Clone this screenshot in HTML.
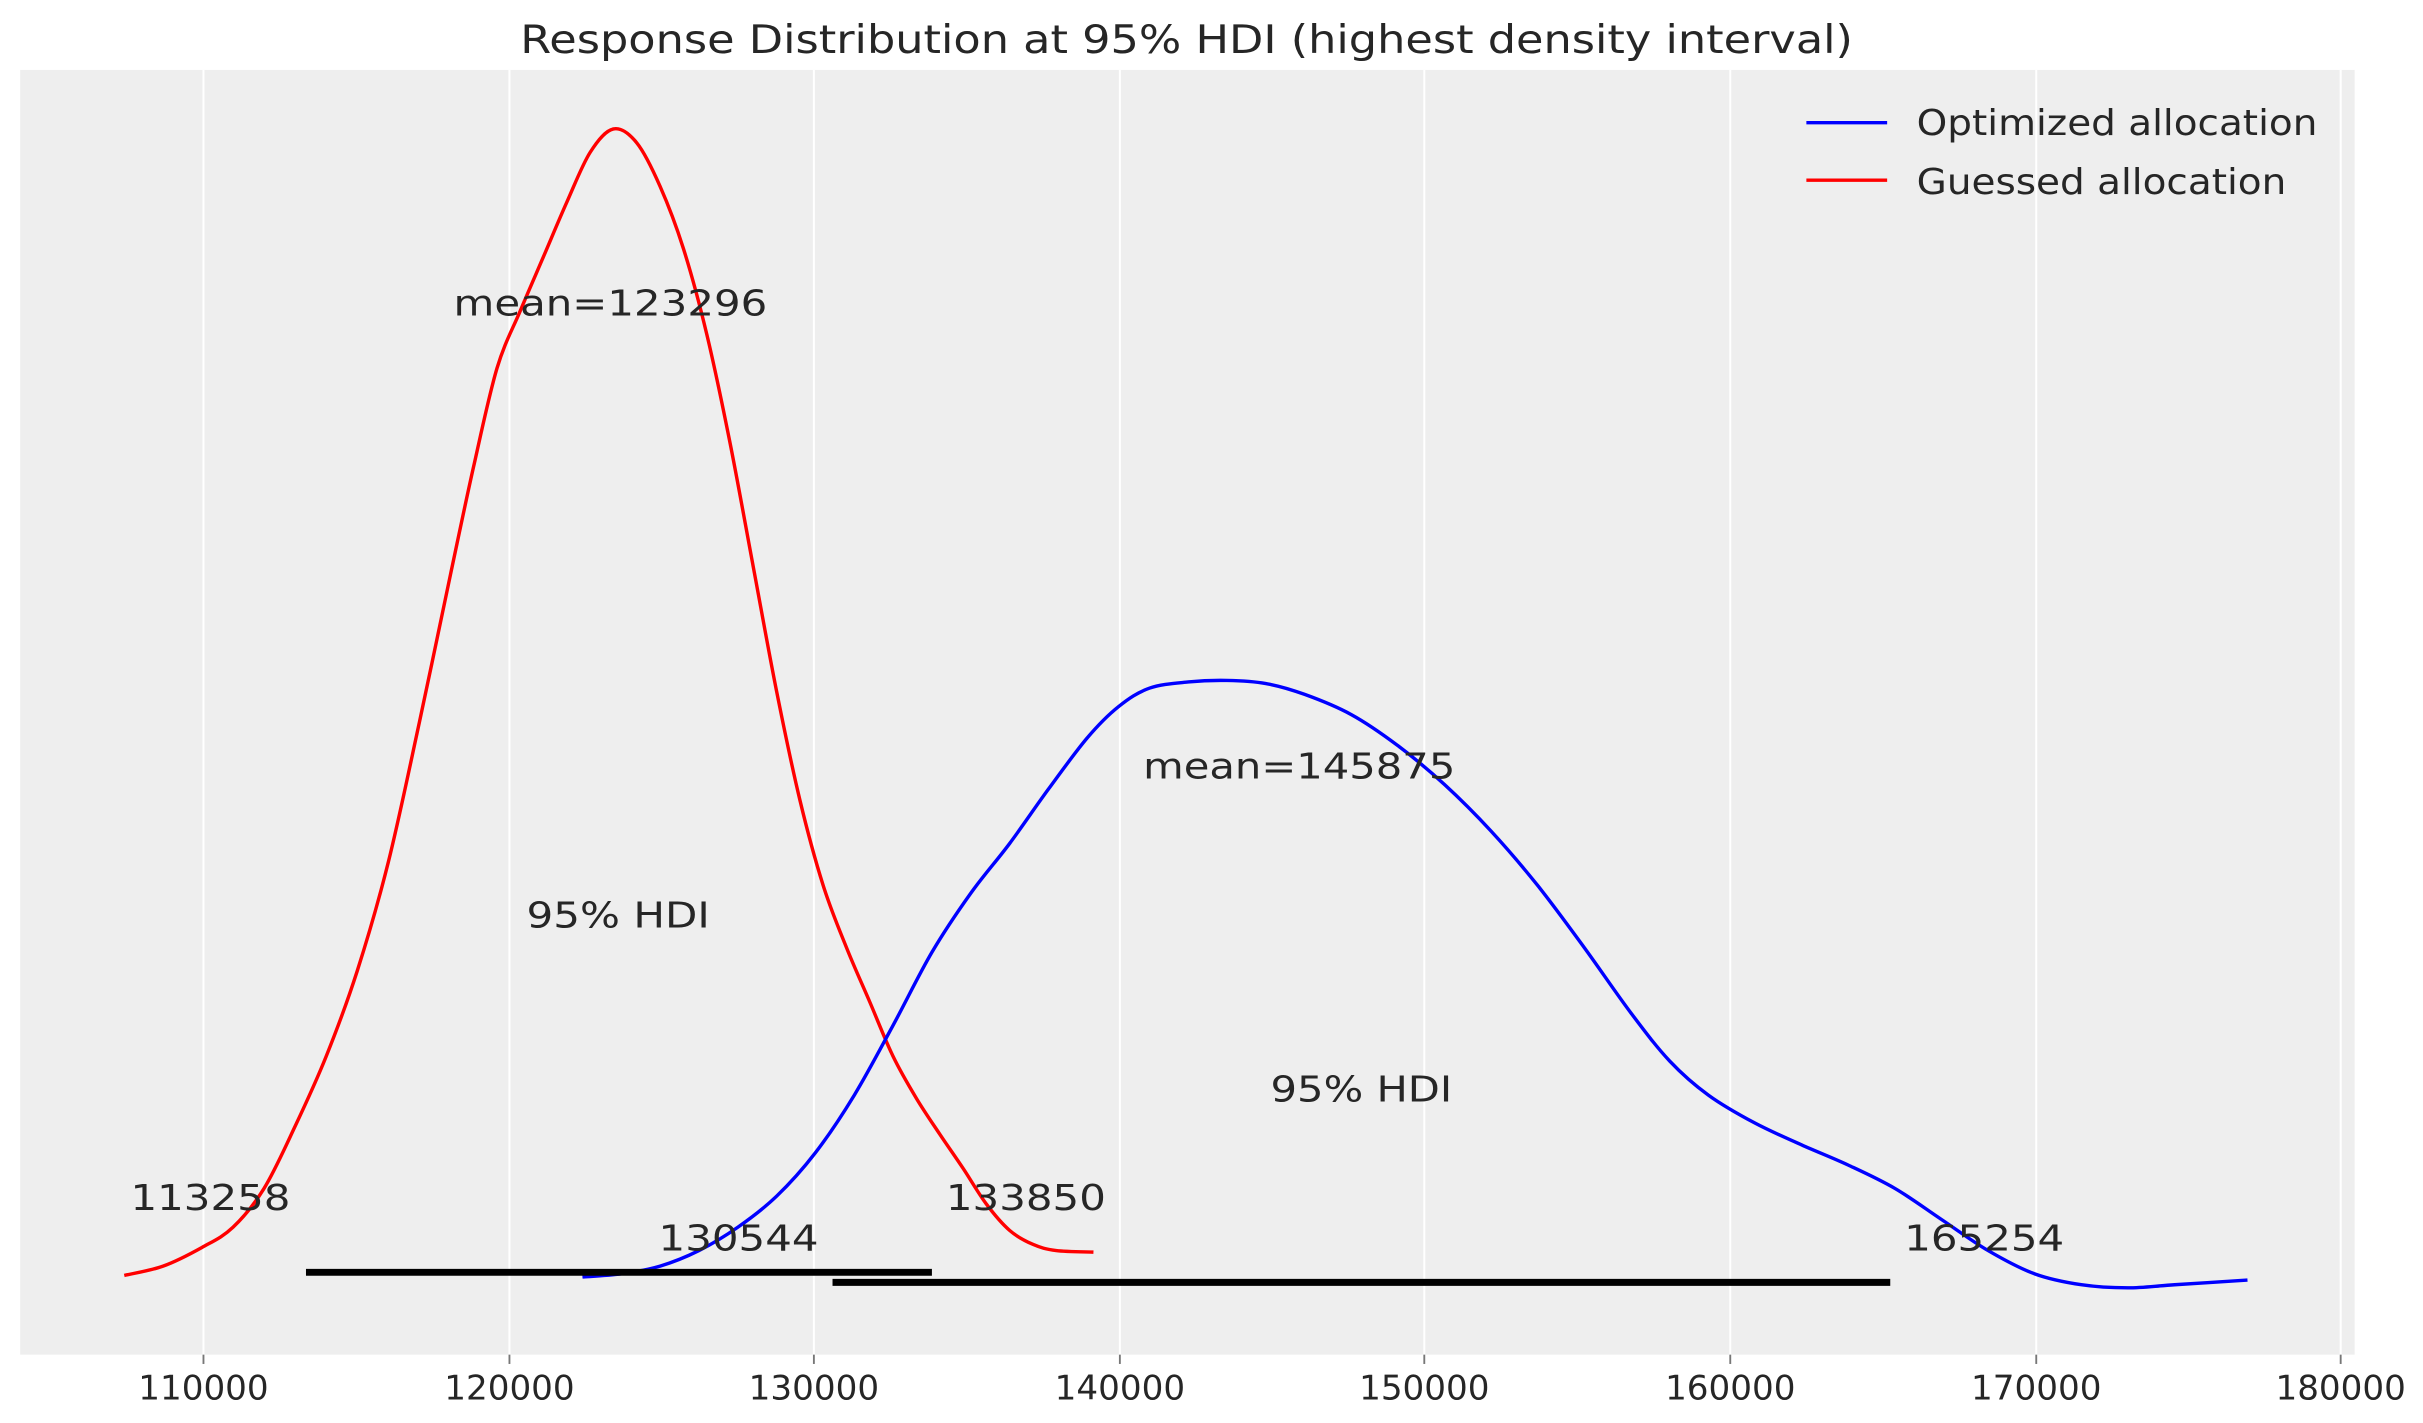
<!DOCTYPE html>
<html><head><meta charset="utf-8"><style>html,body{margin:0;padding:0;background:#fff}svg{display:block}</style></head>
<body>
<svg width="2423" height="1423" viewBox="0 0 1560 916" preserveAspectRatio="none" xmlns="http://www.w3.org/2000/svg" font-family="DejaVu Sans, Liberation Sans, sans-serif" fill="#262626">
<rect x="0" y="0" width="1560" height="916" fill="#fff"/>
<rect x="13" y="45" width="1503" height="827" fill="#eeeeee"/>
<g stroke="#ffffff" stroke-width="1.3">
<line x1="131" y1="45" x2="131" y2="872"/><line x1="328" y1="45" x2="328" y2="872"/><line x1="524" y1="45" x2="524" y2="872"/><line x1="721" y1="45" x2="721" y2="872"/><line x1="917" y1="45" x2="917" y2="872"/><line x1="1114" y1="45" x2="1114" y2="872"/><line x1="1311" y1="45" x2="1311" y2="872"/><line x1="1507" y1="45" x2="1507" y2="872"/>
</g>
<g stroke="#777" stroke-width="1.2">
<line x1="131" y1="872" x2="131" y2="878"/><line x1="328" y1="872" x2="328" y2="878"/><line x1="524" y1="872" x2="524" y2="878"/><line x1="721" y1="872" x2="721" y2="878"/><line x1="917" y1="872" x2="917" y2="878"/><line x1="1114" y1="872" x2="1114" y2="878"/><line x1="1311" y1="872" x2="1311" y2="878"/><line x1="1507" y1="872" x2="1507" y2="878"/>
</g>
<g font-size="22" text-anchor="middle">
<text x="131" y="901">110000</text><text x="328" y="901">120000</text><text x="524" y="901">130000</text><text x="721" y="901">140000</text><text x="917" y="901">150000</text><text x="1114" y="901">160000</text><text x="1311" y="901">170000</text><text x="1507" y="901">180000</text>
</g>
<text x="335" y="34" font-size="25" textLength="858" lengthAdjust="spacingAndGlyphs">Response Distribution at 95% HDI (highest density interval)</text>
<path id="red" fill="none" stroke="#ff0000" stroke-width="2.2" stroke-linejoin="round" d="" data-p="80,821 105,815 130,803 150,790 170,765 190,725 210,680 230,625 250,555 270,465 290,370 305,300 320,237 335,200 350,165 365,130 380,98 395,83 410,92 425,120 440,160 455,215 470,285 485,365 500,445 515,515 530,570 545,610 560,645 575,680 590,707 605,730 620,752 635,775 650,792 665,801 680,805 704,806"/>
<path id="blue" fill="none" stroke="#0000ff" stroke-width="2.2" stroke-linejoin="round" d="" data-p="375,822 400,820 425,815 450,805 475,790 500,770 525,742 550,705 575,660 600,613 625,575 650,543 675,508 700,475 720,455 740,443 765,439 790,438 815,440 840,447 870,460 900,480 930,505 960,535 990,570 1020,610 1050,652 1075,683 1100,705 1130,723 1160,737 1190,750 1220,765 1250,785 1280,805 1310,820 1340,827 1370,829 1400,827 1447,824"/>
<line x1="197" y1="819" x2="600" y2="819" stroke="#000" stroke-width="4.5"/>
<line x1="536" y1="825.5" x2="1217" y2="825.5" stroke="#000" stroke-width="4.5"/>
<g font-size="23">
<text x="84" y="779" textLength="103" lengthAdjust="spacingAndGlyphs">113258</text>
<text x="609" y="779" textLength="103" lengthAdjust="spacingAndGlyphs">133850</text>
<text x="424" y="805" textLength="103" lengthAdjust="spacingAndGlyphs">130544</text>
<text x="1226" y="805" textLength="103" lengthAdjust="spacingAndGlyphs">165254</text>
<text x="292" y="203" textLength="202" lengthAdjust="spacingAndGlyphs">mean=123296</text>
<text x="736" y="501" textLength="201" lengthAdjust="spacingAndGlyphs">mean=145875</text>
<text x="339" y="597" textLength="118" lengthAdjust="spacingAndGlyphs">95% HDI</text>
<text x="818" y="709" textLength="117" lengthAdjust="spacingAndGlyphs">95% HDI</text>
</g>
<line x1="1163" y1="79" x2="1215" y2="79" stroke="#0000ff" stroke-width="2.2"/>
<line x1="1163" y1="116" x2="1215" y2="116" stroke="#ff0000" stroke-width="2.2"/>
<g font-size="23">
<text x="1234" y="87" textLength="258" lengthAdjust="spacingAndGlyphs">Optimized allocation</text>
<text x="1234" y="125" textLength="238" lengthAdjust="spacingAndGlyphs">Guessed allocation</text>
</g>
</svg>
<script>
['red','blue'].forEach(function(id){
  var el=document.getElementById(id);
  var p=el.getAttribute('data-p').trim().split(/\s+/).map(function(s){return s.split(',').map(Number);});
  var d='M'+p[0][0]+','+p[0][1];
  for(var i=0;i<p.length-1;i++){
    var p0=p[i-1]||p[i],p1=p[i],p2=p[i+1],p3=p[i+2]||p2;
    var c1x=p1[0]+(p2[0]-p0[0])/6,c1y=p1[1]+(p2[1]-p0[1])/6;
    var c2x=p2[0]-(p3[0]-p1[0])/6,c2y=p2[1]-(p3[1]-p1[1])/6;
    d+=' C'+c1x.toFixed(2)+','+c1y.toFixed(2)+' '+c2x.toFixed(2)+','+c2y.toFixed(2)+' '+p2[0]+','+p2[1];
  }
  el.setAttribute('d',d);
  el.removeAttribute('data-p');
});
</script>
</body></html>
